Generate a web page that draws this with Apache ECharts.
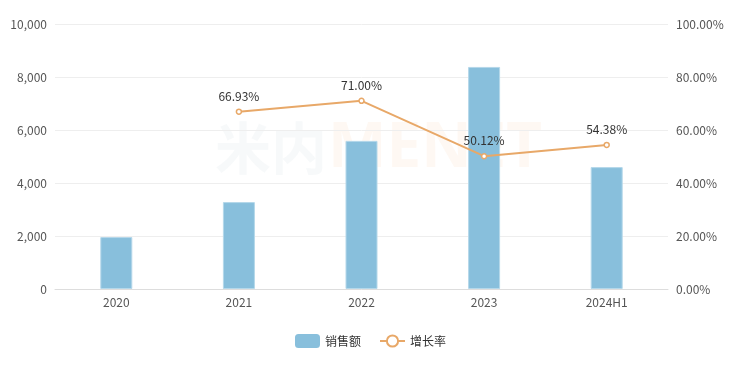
<!DOCTYPE html>
<html><head><meta charset="utf-8">
<script src="https://cdn.jsdelivr.net/npm/echarts@6/dist/echarts.min.js"></script>
<style>html,body{margin:0;padding:0;background:#fff}#c{width:741px;height:367px}</style>
</head><body><div id="c"></div>
<script>
const categories = ['2020','2021','2022','2023','2024H1'];
const sales = [1960, 3280, 5590, 8380, 4600];
const growth = [null, 66.93, 71.00, 50.12, 54.38];
const leftTicks = [0, 2000, 4000, 6000, 8000, 10000];
const rightTicks = [0, 20, 40, 60, 80, 100];

const chart = echarts.init(document.getElementById('c'));
chart.setOption({
  animation: false,
  textStyle: {fontFamily: 'Noto Sans CJK SC, sans-serif'},
  graphic: [
    {type:'text', left: 215, top: 120, z: -1, style:{text:'米内', fontSize: 56, fontWeight: 'bold', fill: 'rgba(200,215,220,0.14)', fontFamily:'Noto Sans CJK SC'}},
    {type:'text', left: 328, top: 118, z: -1, style:{text:'MENET', fontSize: 62, fontWeight: 'bold', fill: 'rgba(250,200,160,0.12)', fontFamily:'Noto Sans'}}
  ],
  grid: {left: 55, right: 73, top: 24, bottom: 78},
  legend: {
    bottom: 14, left: 'center', itemWidth: 25, itemHeight: 14, itemGap: 18,
    textStyle: {color: '#333', fontSize: 12},
    data: [{name:'销售额', icon:'roundRect', itemStyle:{borderWidth:0}}, {name:'增长率'}]
  },
  xAxis: {
    type: 'category', data: categories,
    axisLine: {lineStyle: {color: '#ddd'}},
    axisTick: {show: false},
    axisLabel: {color: '#555', fontSize: 12, margin: 7}
  },
  yAxis: [
    {type: 'value', min: leftTicks[0], max: leftTicks[leftTicks.length-1], interval: 2000,
     axisLabel: {color: '#555', fontSize: 12, formatter: v => v.toLocaleString('en-US'), margin: 8},
     splitLine: {lineStyle: {color: '#eee'}}, axisLine:{show:false}, axisTick:{show:false}},
    {type: 'value', min: rightTicks[0], max: rightTicks[rightTicks.length-1], interval: 20,
     axisLabel: {color: '#555', fontSize: 12, formatter: v => v.toFixed(2) + '%', margin: 8},
     splitLine: {show: false}, axisLine:{show:false}, axisTick:{show:false}}
  ],
  series: [
    {name: '销售额', type: 'bar', data: sales, barWidth: 32,
     itemStyle: {color: '#88bfdc', borderColor: '#b5d8ea', borderWidth: 1}},
    {name: '增长率', type: 'line', yAxisIndex: 1, data: growth,
     symbol: 'circle', symbolSize: 5, connectNulls: false,
     lineStyle: {color: '#e8a868', width: 2},
     itemStyle: {color: '#fff', borderColor: '#e8a868', borderWidth: 1.5},
     label: {show: true, position: 'top', distance: 6, color: '#333', fontSize: 12,
       formatter: p => p.value == null ? '' : p.value.toFixed(2) + '%'}}
  ]
});
</script></body></html>
